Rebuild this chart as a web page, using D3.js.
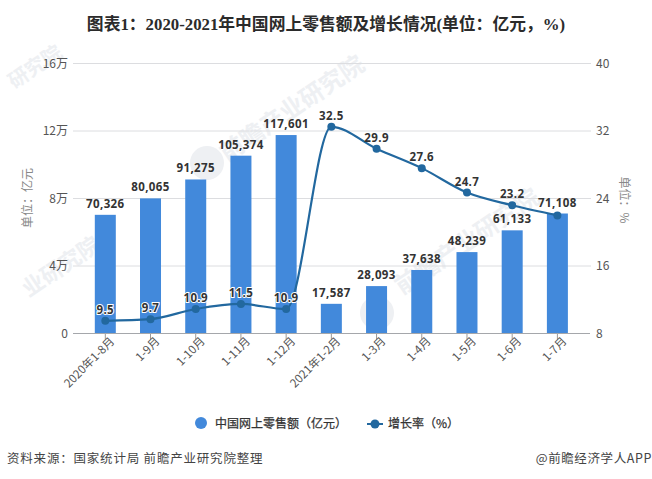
<!DOCTYPE html>
<html lang="zh-CN">
<head>
<meta charset="UTF-8">
<title>图表1</title>
<script src="https://cdn.jsdelivr.net/npm/d3@7"></script>
<style>
  html, body { margin: 0; padding: 0; background: #fff; }
  svg { display: block; }
  text { font-family: "Noto Sans CJK SC", sans-serif; }
</style>
</head>
<body>
<script>
const periods = ['2020年1-8月', '1-9月', '1-10月', '1-11月', '1-12月', '2021年1-2月', '1-3月', '1-4月', '1-5月', '1-6月', '1-7月']
const sales = [70326, 80065, 91275, 105374, 117601, 17587, 28093, 37638, 48239, 61133, 71108]
const growth = [9.5, 9.7, 10.9, 11.5, 10.9, 32.5, 29.9, 27.6, 24.7, 23.2, 22.0]
// the last line point has no label of its own in the picture
const growthLabels = ['9.5', '9.7', '10.9', '11.5', '10.9', '32.5', '29.9', '27.6', '24.7', '23.2', '']
const salesTicks = [0, 40000, 80000, 120000, 160000]
const growthTicks = [8, 16, 24, 32, 40]

const width = 652
const height = 479
const plotTop = 63.5
const plotBottom = 333.5
const barColor = '#4289db'
const lineColor = '#22689f'
const labelFont = '"Open Sans", sans-serif'

const svg = d3.select('body').append('svg')
  .attr('width', width)
  .attr('height', height)

// watermarks, x y size text
const marks = [
  [36, 68, 20, '研究院'],
  [293, 110, 24, '前瞻产业研究院'],
  [62, 268, 22, '业研究院'],
  [468, 243, 24, '前瞻产业研究院']
]
svg.selectAll('.mark')
  .data(marks)
  .enter()
  .append('text')
  .attr('class', 'mark')
  .attr('transform', d => `translate(${d[0]},${d[1]}) rotate(-34)`)
  .attr('text-anchor', 'middle')
  .attr('dominant-baseline', 'middle')
  .attr('font-size', d => d[2])
  .attr('font-weight', 700)
  .attr('fill', '#eef0f3')
  .text(d => d[3])

svg.selectAll('.logo')
  .data([[207, 163], [377, 313]])
  .enter()
  .append('circle')
  .attr('class', 'logo')
  .attr('cx', d => d[0])
  .attr('cy', d => d[1])
  .attr('r', 17)
  .attr('fill', '#eef0f3')

svg.append('text')
  .attr('x', 326)
  .attr('y', 30)
  .attr('text-anchor', 'middle')
  .attr('font-size', 16.8)
  .attr('font-weight', 700)
  .attr('fill', '#2b2b2b')
  .style('font-family', '"Liberation Serif", "Noto Sans CJK SC", serif')
  .text('图表1：2020-2021年中国网上零售额及增长情况(单位：亿元，%)')

const x = d3.scaleBand().domain(periods).range([82.7, 580])
const y = d3.scaleLinear().domain([0, 160000]).range([plotBottom, plotTop])
const y2 = d3.scaleLinear().domain([8, 40]).range([plotBottom, plotTop])

// grid
svg.selectAll('.grid')
  .data(salesTicks.slice(1))
  .enter()
  .append('line')
  .attr('class', 'grid')
  .attr('x1', 73)
  .attr('x2', 591)
  .attr('y1', d => y(d))
  .attr('y2', d => y(d))
  .attr('stroke', '#dcdde0')

const wan = d => d === 0 ? '0' : (d / 10000) + '万'

const leftAxis = svg.append('g')
  .attr('transform', 'translate(73,0)')
  .call(d3.axisLeft(y).tickValues(salesTicks).tickFormat(wan).tickSize(0).tickPadding(5))
const rightAxis = svg.append('g')
  .attr('transform', 'translate(591,0)')
  .call(d3.axisRight(y2).tickValues(growthTicks).tickSize(0).tickPadding(5))
for (const a of [leftAxis, rightAxis]) {
  a.select('.domain').remove()
  a.selectAll('text').attr('font-size', 12).attr('fill', '#555').style('font-family', '"Noto Sans CJK SC", sans-serif')
}

svg.selectAll('.bar')
  .data(sales)
  .enter()
  .append('rect')
  .attr('class', 'bar')
  .attr('x', (d, i) => x(periods[i]) + x.bandwidth() / 2 - 10.5)
  .attr('y', d => y(d))
  .attr('width', 21)
  .attr('height', d => plotBottom - y(d))
  .attr('fill', barColor)

const bottomAxis = svg.append('g')
  .attr('transform', `translate(0,${plotBottom})`)
  .call(d3.axisBottom(x).tickSize(6).tickPadding(3))
bottomAxis.select('.domain').remove()
bottomAxis.selectAll('line').attr('stroke', '#999')
bottomAxis.selectAll('text')
  .attr('font-size', 11.5)
  .attr('fill', '#555')
  .attr('text-anchor', 'end')
  .attr('dx', '1')
  .attr('dy', '4')
  .attr('transform', 'rotate(-45)')
  .style('font-family', '"Noto Sans CJK SC", sans-serif')

svg.append('line')
  .attr('x1', 73).attr('x2', 590)
  .attr('y1', plotBottom).attr('y2', plotBottom)
  .attr('stroke', '#a5a7ab')

const line = d3.line()
  .x((d, i) => x(periods[i]) + x.bandwidth() / 2)
  .y(d => y2(d))
  .curve(d3.curveMonotoneX)

svg.append('path')
  .attr('d', line(growth))
  .attr('fill', 'none')
  .attr('stroke', lineColor)
  .attr('stroke-width', 2.2)

svg.selectAll('.dot')
  .data(growth)
  .enter()
  .append('circle')
  .attr('class', 'dot')
  .attr('cx', (d, i) => x(periods[i]) + x.bandwidth() / 2)
  .attr('cy', d => y2(d))
  .attr('r', 4)
  .attr('fill', lineColor)

svg.selectAll('.sales-label')
  .data(sales)
  .enter()
  .append('text')
  .attr('class', 'sales-label')
  .attr('x', (d, i) => x(periods[i]) + x.bandwidth() / 2)
  .attr('y', d => y(d) - 7)
  .attr('text-anchor', 'middle')
  .attr('font-size', 11.5)
  .attr('font-weight', 700)
  .attr('letter-spacing', 0.4)
  .attr('fill', '#333')
  .style('font-family', labelFont)
  .text(d => d3.format(',')(d))

svg.selectAll('.growth-label')
  .data(growthLabels)
  .enter()
  .append('text')
  .attr('class', 'growth-label')
  .attr('x', (d, i) => x(periods[i]) + x.bandwidth() / 2)
  .attr('y', (d, i) => y2(growth[i]) - 7)
  .attr('text-anchor', 'middle')
  .attr('font-size', 11.5)
  .attr('font-weight', 700)
  .attr('letter-spacing', 0.4)
  .attr('fill', '#333')
  .attr('stroke', (d, i) => i < 5 ? '#fff' : 'none')
  .attr('stroke-width', 2)
  .attr('paint-order', 'stroke')
  .style('font-family', labelFont)
  .text(d => d)

// axis titles
svg.append('text')
  .attr('transform', 'translate(32,198) rotate(-90)')
  .attr('text-anchor', 'middle')
  .attr('font-size', 12)
  .attr('fill', '#888')
  .text('单位：亿元')
svg.append('text')
  .attr('transform', 'translate(620,200) rotate(90)')
  .attr('text-anchor', 'middle')
  .attr('font-size', 12)
  .attr('fill', '#888')
  .text('单位：%')

// legend
svg.append('circle').attr('cx', 201).attr('cy', 423).attr('r', 6).attr('fill', barColor)
svg.append('text').attr('x', 215).attr('y', 427.5).attr('font-size', 12).attr('fill', '#333')
  .attr('stroke', '#333').attr('stroke-width', 0.25)
  .text('中国网上零售额（亿元）')
svg.append('line').attr('x1', 367).attr('x2', 383).attr('y1', 424).attr('y2', 424)
  .attr('stroke', lineColor).attr('stroke-width', 2)
svg.append('circle').attr('cx', 375).attr('cy', 424).attr('r', 4.5).attr('fill', lineColor)
svg.append('text').attr('x', 388).attr('y', 428).attr('font-size', 12).attr('fill', '#333')
  .attr('stroke', '#333').attr('stroke-width', 0.25)
  .text('增长率（%）')

// footer
svg.append('text').attr('x', 7).attr('y', 463).attr('font-size', 12.5).attr('letter-spacing', 0.8).attr('fill', '#444')
  .text('资料来源：国家统计局 前瞻产业研究院整理')
svg.append('text').attr('x', 652).attr('y', 463).attr('text-anchor', 'end').attr('font-size', 12.5).attr('letter-spacing', 0.6).attr('fill', '#444')
  .text('@前瞻经济学人APP')
</script>
</body>
</html>
